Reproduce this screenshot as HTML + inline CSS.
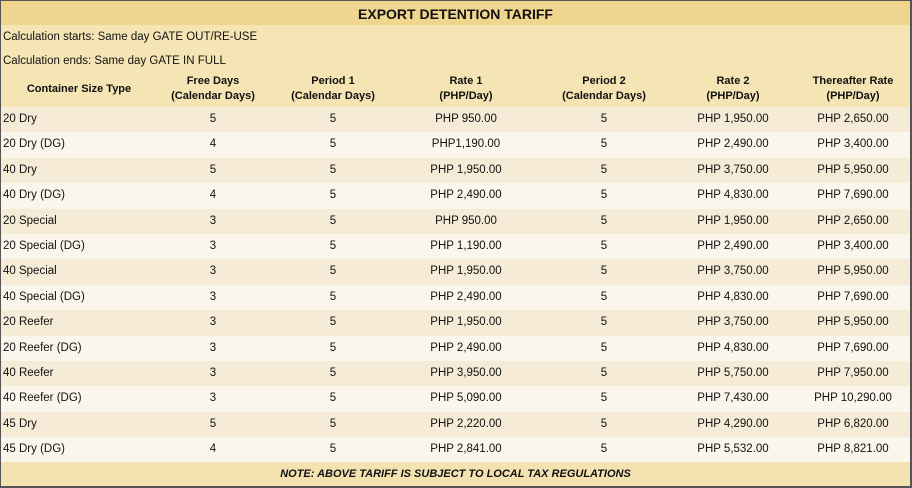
<!DOCTYPE html>
<html><head><style>
body{margin:0;width:912px;height:488px;overflow:hidden;background:#fff;font-family:"Liberation Sans",sans-serif;font-size:11.5px;color:#111}
.wrap{position:absolute;left:0;top:0;width:909px;height:485px;border:1px solid #555;border-right:2px solid #555;border-bottom:2px solid #555;background:#f6e5b4}
.r{position:absolute;left:0;width:909px}
.c{position:absolute;text-align:center;white-space:nowrap}
</style></head><body>
<div class="wrap">
<div class="r" style="top:0;height:24px;background:#f0d58f;font-weight:bold;font-size:14px;text-align:center;line-height:26px">EXPORT DETENTION TARIFF</div>
<div class="r" style="top:24px;height:24px;line-height:24px;padding-left:2px">Calculation starts: Same day GATE OUT/RE-USE</div>
<div class="r" style="top:48px;height:24px;line-height:24px;padding-left:2px">Calculation ends: Same day GATE IN FULL</div>
<div class="r" style="top:72px;height:34px;font-weight:bold;line-height:15px;font-size:11px" id="h"></div>
<div id="rows"></div>
<div class="r" style="top:461px;height:24px;line-height:24px;text-align:center;font-weight:bold;font-style:italic;background:#f4e2b0;font-size:11px">NOTE: ABOVE TARIFF IS SUBJECT TO LOCAL TAX REGULATIONS</div>
</div>
<script>
var cx=[78,212,332,465,603,732,852];
var hd=["Container Size Type","Free Days<br>(Calendar Days)","Period 1<br>(Calendar Days)","Rate 1<br>(PHP/Day)","Period 2<br>(Calendar Days)","Rate 2<br>(PHP/Day)","Thereafter Rate<br>(PHP/Day)"];
var h='';
hd.forEach(function(t,i){h+='<div class="c" style="left:'+(cx[i]-70)+'px;width:140px;top:'+(i==0?9:1)+'px">'+t+'</div>'});
document.getElementById('h').innerHTML=h;
var d=[["20 Dry",5,"PHP 950.00","PHP 1,950.00","PHP 2,650.00"],["20 Dry (DG)",4,"PHP1,190.00","PHP 2,490.00","PHP 3,400.00"],["40 Dry",5,"PHP 1,950.00","PHP 3,750.00","PHP 5,950.00"],["40 Dry (DG)",4,"PHP 2,490.00","PHP 4,830.00","PHP 7,690.00"],["20 Special",3,"PHP 950.00","PHP 1,950.00","PHP 2,650.00"],["20 Special (DG)",3,"PHP 1,190.00","PHP 2,490.00","PHP 3,400.00"],["40 Special",3,"PHP 1,950.00","PHP 3,750.00","PHP 5,950.00"],["40 Special (DG)",3,"PHP 2,490.00","PHP 4,830.00","PHP 7,690.00"],["20 Reefer",3,"PHP 1,950.00","PHP 3,750.00","PHP 5,950.00"],["20 Reefer (DG)",3,"PHP 2,490.00","PHP 4,830.00","PHP 7,690.00"],["40 Reefer",3,"PHP 3,950.00","PHP 5,750.00","PHP 7,950.00"],["40 Reefer (DG)",3,"PHP 5,090.00","PHP 7,430.00","PHP 10,290.00"],["45 Dry",5,"PHP 2,220.00","PHP 4,290.00","PHP 6,820.00"],["45 Dry (DG)",4,"PHP 2,841.00","PHP 5,532.00","PHP 8,821.00"]];
var s='',rh=25.4;
d.forEach(function(r,i){
 var top=106+i*rh;
 s+='<div class="r" style="top:'+top+'px;height:'+(rh+0.5)+'px;line-height:'+rh+'px;background:'+(i%2?'#fbf6ec':'#f6ebd6')+'">';
 s+='<div style="position:absolute;left:2px">'+r[0]+'</div>';
 var v=[r[1],5,r[2],5,r[3],r[4]];
 v.forEach(function(t,j){s+='<div class="c" style="left:'+(cx[j+1]-60)+'px;width:120px">'+t+'</div>'});
 s+='</div>';
});
document.getElementById('rows').innerHTML=s;
</script>
</body></html>
